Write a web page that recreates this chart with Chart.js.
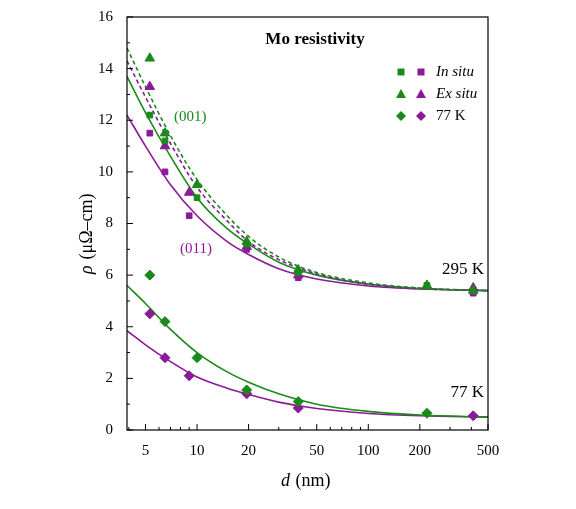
<!DOCTYPE html><html><head><meta charset="utf-8">
<script src="https://cdn.jsdelivr.net/npm/chart.js@4/dist/chart.umd.min.js"></script>
<style>html,body{margin:0;background:#fff}#w{width:576px;height:509px}</style></head><body><div id="w"><canvas id="c"></canvas></div>
<script>
const GREEN='#1a8a1a', PURPLE='#8a1a98';
const xTicks=[5,10,20,50,100,200,500];
const fitD=[3.9,5,7,10,15,20,30,50,100,200,500];
const fitG295=[13.7,12.3,10.6,9.0,7.8,7.2,6.5,6.0,5.65,5.48,5.4];
const fitP295=[12.2,11.0,9.5,8.3,7.3,6.8,6.25,5.85,5.58,5.46,5.4];
const fitG295ex=[14.8,13.3,11.4,9.7,8.3,7.5,6.7,6.1,5.7,5.5,5.4];
const fitP295ex=[14.3,12.9,11.1,9.4,8.1,7.3,6.6,6.05,5.65,5.48,5.4];
const fitG77=[5.6,4.9,3.9,3.0,2.25,1.85,1.4,1.0,0.72,0.58,0.5];
const fitP77=[3.85,3.3,2.65,2.05,1.62,1.38,1.08,0.83,0.64,0.55,0.5];
const gInD=[5.3,6.5,10,19.5,39,220,410], gIn=[12.2,11.2,9.0,7.2,6.1,5.6,5.4];
const pInD=[5.3,6.5,9,19.5,39,410], pIn=[11.5,10.0,8.3,7.0,5.9,5.3];
const gExD=[5.3,6.5,10,19.5,39,220,410], gEx=[14.4,11.5,9.5,7.3,6.2,5.6,5.4];
const pExD=[5.3,6.5,9,19.5,39,410], pEx=[13.3,11.0,9.2,7.1,6.0,5.5];
const g77D=[5.3,6.5,10,19.5,39,220], g77=[6.0,4.2,2.8,1.55,1.1,0.65];
const p77D=[5.3,6.5,9,19.5,39,410], p77=[4.5,2.8,2.1,1.4,0.85,0.55];
const xy=(a,b)=>a.map((x,i)=>({x,y:b[i]}));
const line=(d,y,c,dash)=>({type:'line',data:xy(d,y),borderColor:c,borderWidth:1.6,borderDash:dash||[],pointRadius:0,cubicInterpolationMode:'monotone',order:2});
const pts=(d,y,c,s,r)=>({type:'scatter',data:xy(d,y),backgroundColor:c,borderColor:c,pointStyle:s,pointRadius:r,order:1});
const deco={id:'deco',afterDraw(ch){
 const c=ch.ctx,a=ch.chartArea,X=ch.scales.x,Y=ch.scales.y;
 c.save();c.strokeStyle='#000';c.lineWidth=1.2;c.strokeRect(a.left,a.top,a.right-a.left,a.bottom-a.top);
 c.lineWidth=1;
 for(let v=0;v<=16;v++){const y=Y.getPixelForValue(v),L=v%2?3:6;c.beginPath();c.moveTo(a.left,y);c.lineTo(a.left+L,y);c.stroke();}
 const minors=[4,5,6,7,8,9,10,20,30,40,50,60,70,80,90,100,200,300,400,500];
 minors.forEach(v=>{const x=X.getPixelForValue(v),L=xTicks.includes(v)?6:3;c.beginPath();c.moveTo(x,a.bottom);c.lineTo(x,a.bottom-L);c.stroke();});
 c.fillStyle='#000';c.font='bold 17px "Liberation Serif"';c.textAlign='center';c.fillText('Mo resistivity',315,44);
 c.font='17px "Liberation Serif"';c.textAlign='right';c.fillText('295 K',484,274);c.fillText('77 K',484,397);
 c.textAlign='left';c.fillStyle=GREEN;c.font='15px "Liberation Serif"';c.fillText('(001)',174,121);
 c.fillStyle=PURPLE;c.fillText('(011)',180,253);
 const lg=[['rect','In situ',true],['triangle','Ex situ',true],['rectRot','77 K',false]];
 lg.forEach((e,i)=>{const y=72+i*22;
  [[401,GREEN],[421,PURPLE]].forEach(([x,col])=>{c.fillStyle=col;c.beginPath();
   if(e[0]==='rect')c.rect(x-3.5,y-3.5,7,7);
   else if(e[0]==='triangle'){c.moveTo(x,y-5);c.lineTo(x+5,y+4);c.lineTo(x-5,y+4);c.closePath();}
   else{c.moveTo(x,y-5);c.lineTo(x+5,y);c.lineTo(x,y+5);c.lineTo(x-5,y);c.closePath();}
   c.fill();});
  c.fillStyle='#000';c.font=(e[2]?'italic ':'')+'15px "Liberation Serif"';c.textBaseline='middle';c.fillText(e[1],436,y);c.textBaseline='alphabetic';});
 c.font='italic 18px "Liberation Serif"';c.textAlign='left';c.fillText('d',281,486);c.font='18px "Liberation Serif"';c.fillText(' (nm)',291,486);
 c.translate(92,224);c.rotate(-Math.PI/2);c.textAlign='left';c.font='italic 18px "Liberation Serif"';c.fillText('ρ',-50,0);c.font='18px "Liberation Serif"';c.fillText(' (μΩ–cm)',-40,0);
 c.restore();}};
new Chart(document.getElementById('c'),{data:{datasets:[
 line(fitD,fitG295ex,GREEN,[4,3]),line(fitD,fitP295ex,PURPLE,[4,3]),
 line(fitD,fitG295,GREEN),line(fitD,fitP295,PURPLE),line(fitD,fitG77,GREEN),line(fitD,fitP77,PURPLE),
 pts(gInD,gIn,GREEN,'rect',4),pts(pInD,pIn,PURPLE,'rect',4),
 pts(gExD,gEx,GREEN,'triangle',5.5),pts(pExD,pEx,PURPLE,'triangle',5.5),
 pts(g77D,g77,GREEN,'rectRot',5),pts(p77D,p77,PURPLE,'rectRot',5)]},
 options:{responsive:true,maintainAspectRatio:false,animation:false,layout:{padding:{top:17,right:88,left:0,bottom:0}},
  plugins:{legend:{display:false},tooltip:{enabled:false}},
  scales:{x:{type:'logarithmic',min:3.9,max:500,grid:{display:false},border:{display:false},
    afterBuildTicks:s=>{s.ticks=xTicks.map(v=>({value:v}));},afterFit:s=>{s.height=79;},
    ticks:{color:'#000',font:{family:'Liberation Serif',size:15},padding:4,maxRotation:0,autoSkip:false,callback:v=>String(v)}},
   y:{min:0,max:16,grid:{display:false},border:{display:false},afterFit:s=>{s.width=127;},
    ticks:{stepSize:2,color:'#000',font:{family:'Liberation Serif',size:15},padding:6}}}},
 plugins:[deco]});
</script></body></html>
